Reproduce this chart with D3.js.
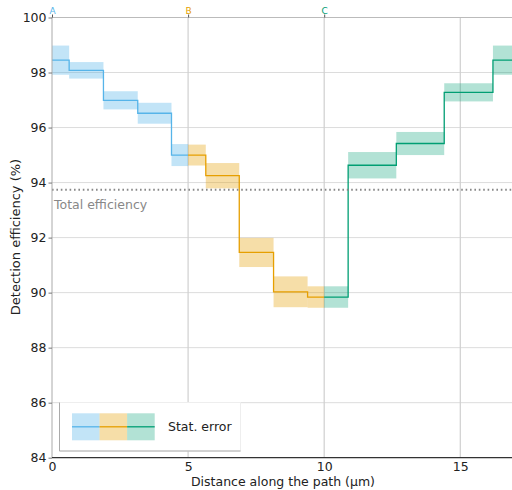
<!DOCTYPE html>
<html>
<head>
<meta charset="utf-8">
<script src="https://cdn.jsdelivr.net/npm/d3@7"></script>
<style>
  html, body { margin: 0; padding: 0; background: #fff; }
  svg { display: block; font-family: "DejaVu Sans", sans-serif; }
</style>
</head>
<body>
<svg id="chart" width="512" height="490"></svg>
<script>
// Segment edges (µm), efficiency values (%) and statistical errors for each path section
const edgesA = [0, 0.63, 1.89, 3.15, 4.39, 5.0];
const valuesA = [98.45, 98.08, 96.99, 96.52, 95.0];
const errorsA = [0.53, 0.30, 0.33, 0.38, 0.40];

const edgesB = [5.0, 5.65, 6.88, 8.14, 9.39, 10.0];
const valuesB = [95.0, 94.25, 91.46, 90.03, 89.84];
const errorsB = [0.38, 0.46, 0.53, 0.56, 0.39];

const edgesC = [10.0, 10.88, 12.65, 14.41, 16.2, 16.9];
const valuesC = [89.84, 94.63, 95.42, 97.28, 98.45];
const errorsC = [0.39, 0.48, 0.42, 0.33, 0.53];

const totalEfficiency = 93.74;

const xTicks = [0, 5, 10, 15];
const yTicks = [84, 86, 88, 90, 92, 94, 96, 98, 100];
const pointLabels = ["A", "B", "C"];
const pointPositions = [0, 5, 10];

const colors = ["#56B4E9", "#E69F00", "#009E73"];
const bandOpacity = [0.36, 0.34, 0.3];

const svg = d3.select("#chart");
const x = d3.scaleLinear().domain([0, 16.9]).range([52, 512]);
const y = d3.scaleLinear().domain([84, 100]).range([457.7, 17.5]);

// Grid
const grid = svg.append("g");
grid.selectAll(".hg").data(yTicks.filter(d => d > 84)).enter().append("line")
  .attr("x1", x(0)).attr("x2", 512)
  .attr("y1", d => y(d)).attr("y2", d => y(d))
  .attr("stroke", "#dcdcdc").attr("stroke-width", 1);
grid.selectAll(".vg").data(xTicks.filter(d => d > 0)).enter().append("line")
  .attr("x1", d => x(d)).attr("x2", d => x(d))
  .attr("y1", y(100)).attr("y2", y(84))
  .attr("stroke", "#cfcfcf").attr("stroke-width", 1.2);

// Series: error bands and step lines
const series = [
  { edges: edgesA, values: valuesA, errors: errorsA },
  { edges: edgesB, values: valuesB, errors: errorsB },
  { edges: edgesC, values: valuesC, errors: errorsC }
];

series.forEach((s, i) => {
  const segs = s.values.map((v, j) => ({ x0: s.edges[j], x1: s.edges[j + 1], v, e: s.errors[j] }));
  svg.append("g").selectAll("rect").data(segs).enter().append("rect")
    .attr("x", d => x(d.x0))
    .attr("width", d => x(d.x1) - x(d.x0))
    .attr("y", d => y(d.v + d.e))
    .attr("height", d => y(d.v - d.e) - y(d.v + d.e))
    .attr("fill", colors[i]).attr("fill-opacity", bandOpacity[i]);
});

series.forEach((s, i) => {
  const pts = [];
  s.values.forEach((v, j) => { pts.push([s.edges[j], v]); pts.push([s.edges[j + 1], v]); });
  const line = d3.line().x(d => x(d[0])).y(d => y(d[1]));
  svg.append("path").attr("d", line(pts))
    .attr("fill", "none").attr("stroke", colors[i]).attr("stroke-width", 1.3);
});

// Total efficiency reference
svg.append("line")
  .attr("x1", x(0)).attr("x2", 512)
  .attr("y1", y(totalEfficiency)).attr("y2", y(totalEfficiency))
  .attr("stroke", "#888").attr("stroke-width", 2).attr("stroke-dasharray", "1.6,2.8");
svg.append("text").attr("x", 54).attr("y", y(totalEfficiency) + 19)
  .attr("font-size", 12.5).attr("fill", "#888").text("Total efficiency");

// Spines
svg.append("line").attr("x1", x(0)).attr("x2", 512).attr("y1", y(100)).attr("y2", y(100))
  .attr("stroke", "#bbb").attr("stroke-width", 1);
svg.append("line").attr("x1", x(0)).attr("x2", x(0)).attr("y1", y(100)).attr("y2", y(84))
  .attr("stroke", "#aaa").attr("stroke-width", 1);

// Axes
const yAxis = svg.append("g").attr("transform", `translate(${x(0)},0)`)
  .call(d3.axisLeft(y).tickValues(yTicks).tickSize(3.5).tickPadding(2).tickFormat(d3.format("d")));
yAxis.select(".domain").remove();
yAxis.selectAll(".tick line").attr("stroke", "#777");
yAxis.selectAll(".tick text").attr("font-size", 12.5).attr("fill", "#222")
  .attr("font-family", "DejaVu Sans");

const xAxis = svg.append("g").attr("transform", `translate(0,${y(84)})`)
  .call(d3.axisBottom(x).tickValues(xTicks).tickSize(0).tickPadding(4).tickFormat(d3.format("d")));
xAxis.select(".domain").attr("stroke", "#333").attr("stroke-width", 1.2)
  .attr("d", `M${x(0)},0H512`);
xAxis.selectAll(".tick text").attr("font-size", 12.5).attr("fill", "#222")
  .attr("font-family", "DejaVu Sans");

// Path point markers on top
const topAxis = svg.append("g").attr("transform", `translate(0,${y(100)})`)
  .call(d3.axisTop(x).tickValues(pointPositions).tickSize(3).tickPadding(1)
    .tickFormat((d, i) => pointLabels[i]));
topAxis.select(".domain").remove();
topAxis.selectAll(".tick line").attr("stroke", "#555");
topAxis.selectAll(".tick text").attr("font-size", 9).attr("font-family", "DejaVu Sans")
  .attr("fill", (d, i) => colors[i]);

// Axis titles
svg.append("text").attr("x", 283).attr("y", 486).attr("text-anchor", "middle")
  .attr("font-size", 12.5).attr("fill", "#222").text("Distance along the path (μm)");
svg.append("text").attr("transform", `translate(20,237) rotate(-90)`).attr("text-anchor", "middle")
  .attr("font-size", 13).attr("fill", "#222").text("Detection efficiency (%)");

// Legend
const lg = svg.append("g");
lg.append("rect").attr("x", 59.5).attr("y", 402.5).attr("width", 181).attr("height", 48.5)
  .attr("fill", "#fff").attr("stroke", "#eee");
lg.append("path").attr("d", "M59.5,402.5V451H240.5").attr("fill", "none").attr("stroke", "#aaa");
const lx = d3.scaleBand().domain([0, 1, 2]).range([72, 154.7]);
lg.selectAll(".lb").data(colors).enter().append("rect")
  .attr("x", (d, i) => lx(i)).attr("width", lx.bandwidth())
  .attr("y", 413.3).attr("height", 27)
  .attr("fill", d => d).attr("fill-opacity", (d, i) => bandOpacity[i]);
lg.selectAll(".ll").data(colors).enter().append("line")
  .attr("x1", (d, i) => lx(i)).attr("x2", (d, i) => lx(i) + lx.bandwidth())
  .attr("y1", 426.8).attr("y2", 426.8)
  .attr("stroke", d => d).attr("stroke-width", 1.3);
lg.append("text").attr("x", 168).attr("y", 431).attr("font-size", 12.5).attr("fill", "#222")
  .text("Stat. error");
</script>
</body>
</html>
